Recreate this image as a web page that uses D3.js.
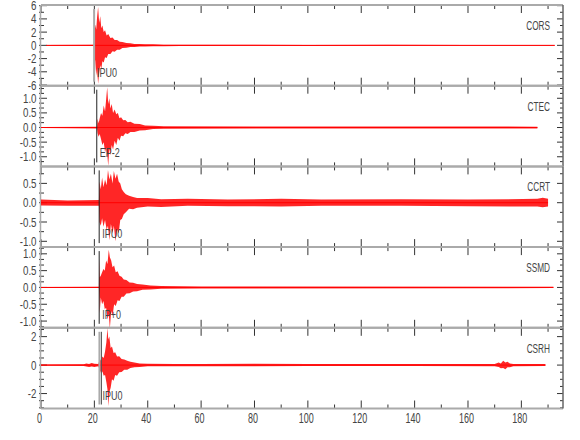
<!DOCTYPE html>
<html lang="en">
<head>
<meta charset="UTF-8">
<title>Seismograms</title>
<script src="https://d3js.org/d3.v7.min.js"></script>
<style>
    body { margin: 0; background: #fff; }
    svg { display: block; }
    text { font-family: "Liberation Sans", Arial, sans-serif; fill: #444; }
</style>
</head>
<body>
<script>
// station traces, top to bottom
const stations = ["CORS", "CTEC", "CCRT", "SSMD", "CSRH"];
const pickLabels = ["IPU0", "EP-2", "IPU0", "IP+0", "IPU0"];
const pickTimes = [19.9, 20.9, 21.8, 21.8, 21.9];
const yDomains = [[-6.1, 6.1], [-1.33, 1.43], [-1.15, 0.94], [-1.2, 1.2], [-3.05, 2.62]];
const yLabelTicks = [[-6, -4, -2, 0, 2, 4, 6], [-1, -0.5, 0, 0.5, 1], [-1, -0.5, 0, 0.5], [-1, -0.5, 0, 0.5, 1], [-2, 0, 2]];
const yMinorStep = [1, 1 / 6, 0.25, 1 / 6, 0.5];
const xMax = 195.6;
const xTicks = [0, 20, 40, 60, 80, 100, 120, 140, 160, 180];

// envelopes: [time s, max, min]
const corsEnv = [[2, 0.06, -0.06], [19.8, 0.08, -0.08], [19.95, 2.6, -3.0], [20.3, 3.1, -2.2], [20.7, 2.4, -4.6], [21.0, 4.2, -3.5],
    [21.4, 5.8, -5.8], [21.8, 3.4, -4.2], [22.2, 4.4, -3.0], [22.6, 2.6, -3.6], [23.0, 3.0, -2.4], [23.5, 2.0, -2.6], [24.0, 2.3, -1.8],
    [24.6, 1.5, -1.9], [25.2, 1.7, -1.3], [26, 1.1, -1.3], [26.8, 1.2, -0.9], [27.6, 0.8, -0.95], [28.5, 0.8, -0.65], [29.5, 0.55, -0.65],
    [30.5, 0.5, -0.4], [32, 0.35, -0.38], [33.5, 0.32, -0.25], [35, 0.22, -0.26], [37, 0.22, -0.18], [39, 0.15, -0.18], [42, 0.15, -0.12],
    [46, 0.1, -0.12], [52, 0.1, -0.08], [60, 0.08, -0.1], [80, 0.08, -0.07], [100, 0.07, -0.08], [130, 0.08, -0.07], [160, 0.06, -0.07],
    [192.5, 0.07, -0.06]];
const ctecEnv = [[0, 0.02, -0.02], [21.0, 0.03, -0.03], [21.2, 0.3, -0.2], [21.6, 0.15, -0.32], [22.0, 0.32, -0.22], [22.5, 0.5, -0.4],
    [23.0, 0.4, -0.6], [23.5, 0.75, -0.5], [24.0, 0.55, -0.85], [24.4, 0.95, -0.7], [24.8, 1.38, -0.9], [25.2, 0.8, -1.32], [25.6, 1.0, -0.7],
    [26.0, 0.65, -0.95], [26.5, 0.8, -0.6], [27.0, 0.5, -0.75], [27.6, 0.62, -0.45], [28.2, 0.45, -0.6], [28.8, 0.5, -0.35], [29.4, 0.32, -0.45],
    [30, 0.35, -0.28], [30.8, 0.25, -0.3], [31.6, 0.26, -0.2], [32.5, 0.18, -0.22], [33.5, 0.2, -0.15], [35, 0.13, -0.15], [37, 0.12, -0.1],
    [39, 0.07, -0.09], [42, 0.06, -0.05], [46, 0.04, -0.04], [186, 0.03, -0.03]];
const ccrtEnv = [[0, 0.08, -0.07], [10, 0.06, -0.08], [21.7, 0.07, -0.08], [21.9, 0.55, -0.5], [22.4, 0.35, -0.6], [22.9, 0.65, -0.4],
    [23.4, 0.4, -0.62], [24.0, 0.6, -0.45], [24.6, 0.45, -0.7], [25.1, 0.85, -0.6], [25.6, 0.6, -0.97], [26.2, 0.75, -0.55], [26.8, 0.5, -0.8],
    [27.3, 0.82, -0.6], [27.9, 0.62, -1.0], [28.5, 0.75, -0.7], [29.1, 0.55, -0.8], [29.7, 0.5, -0.45], [30.3, 0.35, -0.42], [31, 0.28, -0.3],
    [31.8, 0.22, -0.25], [33, 0.18, -0.16], [34.5, 0.15, -0.17], [36, 0.12, -0.13], [40, 0.12, -0.1], [45, 0.09, -0.11], [55, 0.1, -0.08],
    [70, 0.08, -0.09], [90, 0.1, -0.1], [105, 0.08, -0.08], [135, 0.09, -0.08], [160, 0.08, -0.09], [186, 0.1, -0.1], [188, 0.13, -0.12],
    [190, 0.1, -0.1]];
const ssmdEnv = [[0, 0.015, -0.015], [21.7, 0.02, -0.02], [21.85, 0.88, -0.3], [22.0, 0.3, -0.77], [22.4, 0.35, -0.3], [22.9, 0.45, -0.5],
    [23.4, 0.55, -0.4], [23.9, 0.5, -0.65], [24.4, 0.8, -0.6], [24.9, 0.7, -0.95], [25.4, 1.12, -0.8], [25.8, 0.9, -1.22], [26.3, 0.8, -0.7],
    [26.8, 0.6, -0.85], [27.4, 0.65, -0.5], [28, 0.45, -0.55], [28.7, 0.48, -0.38], [29.4, 0.35, -0.4], [30.2, 0.32, -0.28], [31, 0.24, -0.28],
    [32, 0.22, -0.18], [33.2, 0.15, -0.17], [34.5, 0.14, -0.12], [36, 0.1, -0.11], [38, 0.09, -0.07], [41, 0.06, -0.06], [45, 0.04, -0.04],
    [60, 0.03, -0.03], [192, 0.02, -0.02]];
const csrhEnv = [[0, 0.05, -0.05], [16, 0.06, -0.06], [17, 0.12, -0.1], [18, 0.08, -0.14], [19, 0.15, -0.1], [20, 0.1, -0.13],
    [21.5, 0.08, -0.08], [22, 0.45, -0.35], [22.5, 0.3, -0.55], [23, 0.6, -0.45], [23.5, 0.5, -0.75], [24, 0.95, -0.7], [24.5, 1.6, -1.2],
    [24.9, 2.6, -1.7], [25.2, 1.8, -2.9], [25.6, 2.0, -1.9], [26.1, 1.2, -1.6], [26.6, 1.3, -1.0], [27.2, 0.85, -1.1], [27.8, 0.9, -0.7],
    [28.5, 0.6, -0.75], [29.3, 0.62, -0.5], [30.2, 0.42, -0.48], [31.2, 0.4, -0.33], [32.3, 0.3, -0.32], [33.5, 0.24, -0.2], [35, 0.18, -0.16],
    [37, 0.12, -0.14], [40, 0.1, -0.09], [50, 0.08, -0.08], [60, 0.07, -0.08], [80, 0.1, -0.09], [100, 0.07, -0.07], [140, 0.07, -0.06],
    [170, 0.08, -0.08], [171.5, 0.18, -0.14], [172.3, 0.12, -0.22], [173.2, 0.3, -0.2], [174, 0.18, -0.3], [174.8, 0.24, -0.15],
    [175.7, 0.12, -0.16], [177, 0.08, -0.08], [189, 0.07, -0.07]];
const envelopes = [corsEnv, ctecEnv, ccrtEnv, ssmdEnv, csrhEnv];
const greyPicks = new Set(["CORS", "CSRH"]);

const W = 580, H = 440;
const top0 = 5, panelH = 80.7;
const svg = d3.select("body").append("svg").attr("width", W).attr("height", H);
const x = d3.scaleLinear().domain([0, xMax]).range([41, 563]);
const xMinor = d3.range(10, 200, 20).filter(t => t < xMax);

// the plot's lettering is a narrow stroke font, so squeeze a normal sans
function label(parent, px, py, str, size, sx, anchor, fill) {
    return parent.append("text")
        .attr("transform", `translate(${px},${py}) scale(${sx},1)`)
        .attr("text-anchor", anchor || "start")
        .attr("font-size", size)
        .attr("fill", fill || "#444")
        .text(str);
}

stations.forEach((name, i) => {
    const yTop = top0 + i * panelH, yBot = yTop + panelH;
    const y = d3.scaleLinear().domain(yDomains[i]).range([yBot, yTop]);
    const g = svg.append("g");

    // x ticks, top and bottom, pointing in
    xTicks.concat(xMinor).forEach(t => {
        const len = xTicks.includes(t) ? 8 : 4;
        g.append("line").attr("x1", x(t)).attr("x2", x(t)).attr("y1", yTop).attr("y2", yTop + len)
            .attr("stroke", "#333").attr("stroke-width", 1);
        g.append("line").attr("x1", x(t)).attr("x2", x(t)).attr("y1", yBot).attr("y2", yBot - len)
            .attr("stroke", "#333").attr("stroke-width", 1);
    });

    // y ticks
    const [lo, hi] = yDomains[i];
    const step = yMinorStep[i];
    const minor = d3.range(Math.ceil(lo / step - 1e-6), Math.floor(hi / step + 1e-6) + 1).map(k => k * step);
    minor.forEach(v => {
        const major = yLabelTicks[i].some(m => Math.abs(m - v) < 1e-6);
        const len = major ? 6 : 3;
        g.append("line").attr("x1", x(0) - 2).attr("x2", x(0) + len).attr("y1", y(v)).attr("y2", y(v))
            .attr("stroke", "#333");
        g.append("line").attr("x1", x(xMax)).attr("x2", x(xMax) - len).attr("y1", y(v)).attr("y2", y(v))
            .attr("stroke", "#333");
    });

    const fmt = Number.isInteger(yLabelTicks[i][1])
        ? (v => (v < 0 ? "-" : "") + Math.abs(v))
        : (v => (v < 0 ? "-" : "") + Math.abs(v).toFixed(1));
    yLabelTicks[i].forEach(v => label(g, 36.5, y(v) + 4.5, fmt(v), 12.5, 0.78, "end"));

    // frame
    g.append("line").attr("x1", x(0)).attr("x2", x(xMax)).attr("y1", yTop).attr("y2", yTop).attr("stroke", "#aaa").attr("stroke-width", 2);
    g.append("line").attr("x1", x(0)).attr("x2", x(xMax)).attr("y1", yBot).attr("y2", yBot).attr("stroke", "#aaa").attr("stroke-width", 2);
    g.append("line").attr("x1", x(0) - 0.5).attr("x2", x(0) - 0.5).attr("y1", yTop).attr("y2", yBot).attr("stroke", "#aaa").attr("stroke-width", 1.5);
    g.append("line").attr("x1", x(xMax)).attr("x2", x(xMax)).attr("y1", yTop).attr("y2", yBot).attr("stroke", "#666").attr("stroke-width", 1.5);

    // trace
    const env = envelopes[i];
    const area = d3.area().x(d => x(d[0])).y0(d => y(d[2])).y1(d => y(d[1]));
    g.append("path").datum(env).attr("d", area).attr("fill", "#ff0000").attr("fill-opacity", 0.85);
    g.append("line").attr("x1", x(env[0][0])).attr("x2", x(env[env.length - 1][0]))
        .attr("y1", y(0)).attr("y2", y(0)).attr("stroke", "#ff0000").attr("stroke-width", 1);

    // pick
    const px = x(pickTimes[i]);
    const grey = greyPicks.has(name);
    g.append("line").attr("x1", px).attr("x2", px).attr("y1", yTop + 4).attr("y2", yBot - 4)
        .attr("stroke", grey ? "#aaa" : "#222").attr("stroke-width", grey ? 2 : 1);
    if (name === "CSRH") {
        g.append("line").attr("x1", px + 2).attr("x2", px + 2).attr("y1", yTop + 4).attr("y2", yBot - 4)
            .attr("stroke", "#555").attr("stroke-width", 1);
    }
    label(g, px + 3, yBot - 9, pickLabels[i], 12.5, 0.72, "start", "#333");

    label(g, 550, yTop + 25, name, 12.5, 0.66, "end");
});

// time axis labels
xTicks.forEach(t => label(svg, x(t) - 1.5, 423, String(t), 15, 0.6, "middle"));
</script>
</body>
</html>
